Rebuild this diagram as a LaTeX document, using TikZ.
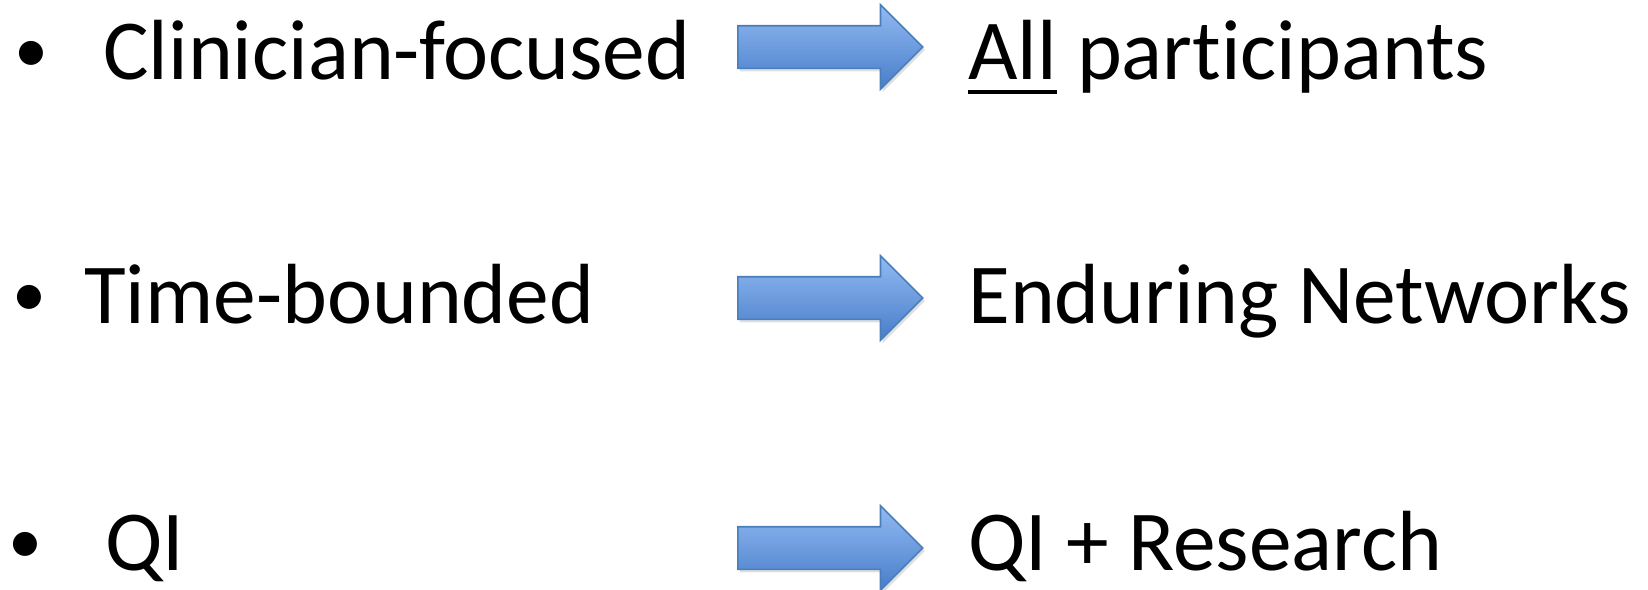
\documentclass[tikz,border=0pt]{standalone}
\usepackage{fontspec}
\setmainfont{Carlito}[Ligatures = {NoCommon, NoContextual}]
\usetikzlibrary{positioning,shapes.arrows,shadows}
\tikzstyle{slide} = [x = .5pt, y = -.5pt]
\definecolor{arrowEdge}{RGB}{74,126,187}
\definecolor{arrowLight}{RGB}{146,186,242}
\definecolor{arrowDark}{RGB}{72,125,202}
\tikzstyle{itemText} = [anchor = base west, inner sep = 0, font = \fontsize{42.7}{51}\selectfont]
\tikzstyle{bulletText} = [anchor = base west, inner sep = 0, font = \fontsize{34}{40}\selectfont]
\tikzstyle{underLine} = [line width = 2.2pt]
\tikzstyle{blockArrow} = [single arrow, draw = arrowEdge, line width = .8pt, top color = arrowLight, bottom color = arrowDark, minimum height = 92.5pt, inner xsep = 0pt, inner ysep = 10.25pt, single arrow head extend = 10.5pt, anchor = west, drop shadow = {opacity = .25, shadow xshift = 1pt, shadow yshift = -1.5pt}]
\newcommand{\arrowX}{737}
\newcommand{\rightX}{968}
\newcommand{\itemRow}[7]{
  \node [bulletText] (bullet#1) at (#3, #2 - 7) {•};
  \node [itemText] (from#1) at (#4, #2) {#5};
  \node [blockArrow] (arrow#1) at (\arrowX, #7) {};
  \node [itemText] (to#1) at (\rightX, #2) {#6};
}
\begin{document}
\begin{tikzpicture}[slide]
        \useasboundingbox (0, 0) rectangle (1648, 589);
        \itemRow{One}{79}{14}{103}{Clinician-focused}{All}{47}
        \node [itemText] (restOne) at (toOne.base east) {\ participants};
        \draw [underLine] ([yshift = -6.5pt] toOne.base west) -- ([yshift = -6.5pt] toOne.base east);
        \itemRow{Two}{323}{12}{84}{Time-bounded}{Enduring Networks}{298}
        \itemRow{Three}{570}{8}{105}{QI}{QI + Research}{548}
      \end{tikzpicture}
\end{document}
